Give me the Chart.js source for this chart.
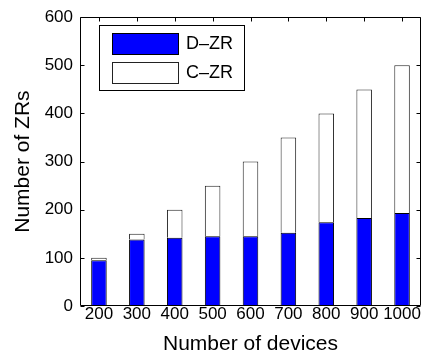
<!DOCTYPE html>
<html>
<head>
<meta charset="utf-8">
<script src="https://cdn.jsdelivr.net/npm/chart.js@4/dist/chart.umd.min.js"></script>
<style>
  html, body { margin: 0; padding: 0; background: #ffffff; }
  #wrap { width: 424px; height: 360px; }
</style>
</head>
<body>
<div id="wrap"><canvas id="c" width="424" height="360"></canvas></div>
<script>
const categories = ["200", "300", "400", "500", "600", "700", "800", "900", "1000"];
const dzrValues = [95, 138, 142, 145, 145, 152, 174, 183, 193];
const czrValues = [5, 12, 58, 105, 155, 198, 226, 267, 307];
const seriesNames = ["D\u2013ZR", "C\u2013ZR"];
const yTicks = [0, 100, 200, 300, 400, 500, 600];
const xTitle = "Number of devices";
const yTitle = "Number of ZRs";

const FONT = "'Liberation Sans', Arial, Helvetica, sans-serif";

const framePlugin = {
  id: 'frame',
  afterDatasetsDraw(chart) {
    const ctx = chart.ctx;
    const a = chart.chartArea;
    const xs = chart.scales.x, ys = chart.scales.y;
    ctx.save();
    ctx.strokeStyle = '#000';
    ctx.lineWidth = 1;
    const L = Math.round(a.left) + 0.5, R = Math.round(a.right) - 0.5;
    const T = Math.round(a.top) + 0.5, B = Math.round(a.bottom) - 0.5;
    ctx.beginPath();
    ctx.rect(L, T, R - L, B - T);
    ctx.stroke();
    const tl = 4;
    ctx.beginPath();
    ys.ticks.forEach(t => {
      const y = Math.round(ys.getPixelForValue(t.value)) + 0.5;
      ctx.moveTo(L, y); ctx.lineTo(L + tl, y);
      ctx.moveTo(R, y); ctx.lineTo(R - tl, y);
    });
    xs.ticks.forEach((t, i) => {
      const x = Math.round(xs.getPixelForTick(i)) + 0.5;
      ctx.moveTo(x, T); ctx.lineTo(x, T + tl);
    });
    ctx.stroke();
    ctx.restore();
  },
  afterDraw(chart) {
    const ctx = chart.ctx;
    const ds = chart.data.datasets;
    const bx = 99.5, by = 25.5, bw = 145, bh = 65;
    ctx.save();
    ctx.fillStyle = '#fff';
    ctx.fillRect(bx, by, bw, bh);
    ctx.strokeStyle = '#000';
    ctx.lineWidth = 1;
    ctx.strokeRect(bx, by, bw, bh);
    const rows = [33, 62];
    ds.forEach((d, i) => {
      const sy = rows[i] + 0.5;
      ctx.fillStyle = d.backgroundColor;
      ctx.fillRect(112.5, sy, 66, 21);
      ctx.strokeStyle = d.borderColor;
      ctx.strokeRect(112.5, sy, 66, 21);
      ctx.fillStyle = '#000';
      ctx.font = "18px " + FONT;
      ctx.textBaseline = 'middle';
      ctx.textAlign = 'left';
      ctx.fillText(d.label, 186, sy + 11);
    });
    ctx.restore();
  }
};

new Chart(document.getElementById('c'), {
  type: 'bar',
  data: {
    labels: categories,
    datasets: [
      { label: seriesNames[0], data: dzrValues, backgroundColor: '#0000ff', borderColor: '#000000', borderWidth: 1, borderSkipped: false },
      { label: seriesNames[1], data: czrValues, backgroundColor: '#ffffff', borderColor: '#222222', borderWidth: 1, borderSkipped: 'bottom' }
    ]
  },
  options: {
    responsive: false,
    animation: false,
    devicePixelRatio: 1,
    layout: { padding: { top: 10, right: 3, left: 0, bottom: 0 } },
    datasets: { bar: { barPercentage: 0.41, categoryPercentage: 1.0 } },
    plugins: { legend: { display: false }, tooltip: { enabled: false } },
    scales: {
      x: {
        stacked: true,
        offset: true,
        grid: { display: false, drawTicks: false },
        border: { display: false },
        ticks: { color: '#000', font: { family: FONT, size: 17, lineHeight: 1 }, padding: 0, autoSkip: false, maxRotation: 0, minRotation: 0 },
        title: { display: true, text: xTitle, color: '#000', font: { family: FONT, size: 21, lineHeight: 1 }, padding: { top: 0, bottom: 5 } },
        afterFit(s) { s.height = 54; }
      },
      y: {
        stacked: true,
        min: 0, max: 600,
        afterBuildTicks(s) { s.ticks = yTicks.map(v => ({ value: v })); },
        grid: { display: false, drawTicks: false },
        border: { display: false },
        ticks: { color: '#000', font: { family: FONT, size: 17 }, padding: 7 },
        title: { display: true, text: yTitle, color: '#000', font: { family: FONT, size: 21, lineHeight: 1 }, padding: { top: 13, bottom: 0 } },
        afterFit(s) { s.width = 80; }
      }
    }
  },
  plugins: [framePlugin]
});
</script>
</body>
</html>
